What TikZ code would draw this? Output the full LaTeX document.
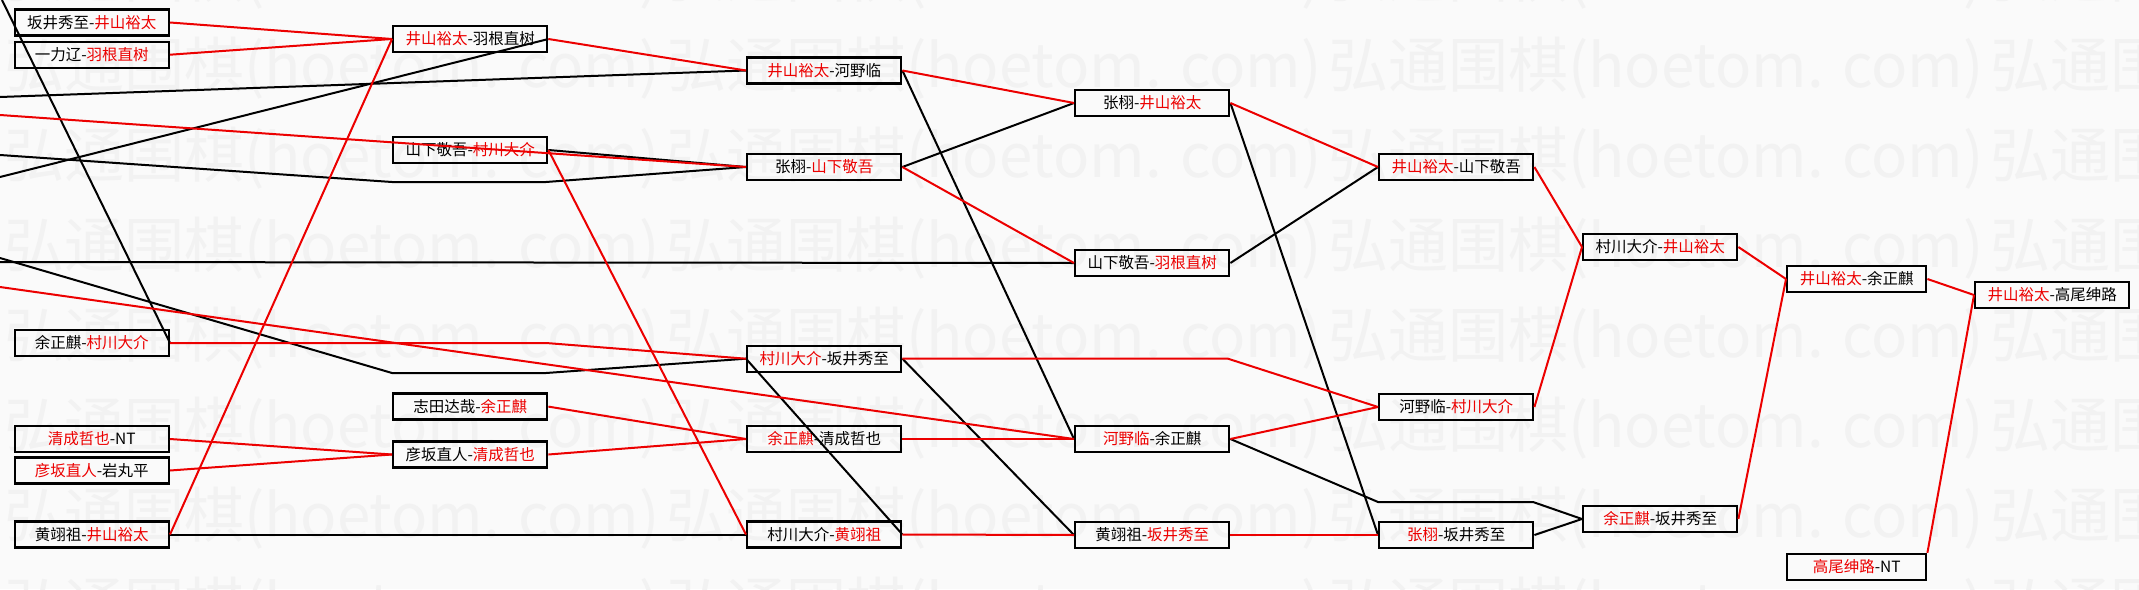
\documentclass[tikz,border=0pt]{standalone}
\usepackage{fontspec}
\usepackage{xcolor}
\usepackage{tikz}
\usetikzlibrary{positioning}
\newfontfamily\cjk{Noto Sans CJK SC}
\definecolor{wred}{RGB}{236,0,0}
\definecolor{wmark}{RGB}{242,242,242}
\newcommand{\wn}[1]{\textcolor{wred}{#1}}

\begin{document}
\begin{tikzpicture}[x=1pt, y=-1pt,
  every node/.style={font=\cjk\fontsize{15.5}{15.5}\selectfont},
  mbox/.style={draw, line width=2.4pt, minimum width=154pt, minimum height=26pt, inner sep=0pt, anchor=west},
  wm/.style={text=wmark, font=\cjk\fontsize{60}{60}\selectfont, inner sep=0pt, anchor=west},
  won/.style={draw=wred, line width=2pt},
  lost/.style={draw=black, line width=2pt}]
  \fill[white!98!black] (0,0) rectangle (2139,589);
  \useasboundingbox (0,0) rectangle (2139,589);
  % ---------- watermark ----------
  \foreach \r in {-1,...,6}
    \foreach \c in {-1,...,3}
      \node[wm] (wm-\r-\c) at ({4+662*\c},{68+90*\r}) {弘通围棋(hoetom. com)};
  % ---------- ROUND 1 ----------
  \node[mbox] (sj1)  at (13.6,22.5) {坂井秀至-\wn{井山裕太}};
  \node[mbox] (yl1)  at (13.6,54.7) {一力辽-\wn{羽根直树}};
  \node[mbox] (yzq1) at (13.6,343)  {余正麒-\wn{村川大介}};
  \node[mbox] (qc1)  at (13.6,439)  {\wn{清成哲也}-NT};
  \node[mbox] (ys1)  at (13.6,470.5) {\wn{彦坂直人}-岩丸平};
  \node[mbox] (hyz1) at (13.6,534.5) {黄翊祖-\wn{井山裕太}};
  % ---------- ROUND 2 ----------
  \node[mbox] (jsy2) at (392,39)    {\wn{井山裕太}-羽根直树};
  \node[mbox] (sxj2) at (392,150)   {山下敬吾-\wn{村川大介}};
  \node[mbox] (zt2)  at (392,406.6) {志田达哉-\wn{余正麒}};
  \node[mbox] (ys2)  at (392,454.5) {彦坂直人-\wn{清成哲也}};
  % ---------- ROUND 3 ----------
  \node[mbox] (jsy3)  at (746,70.5)  {\wn{井山裕太}-河野临};
  \node[mbox] (zx3)   at (746,167)   {张栩-\wn{山下敬吾}};
  \node[mbox] (ccd3)  at (746,358.7) {\wn{村川大介}-坂井秀至};
  \node[mbox] (yzq3)  at (746,439)   {\wn{余正麒}-清成哲也};
  \node[mbox] (ccd3b) at (746,534.5) {村川大介-\wn{黄翊祖}};
  % ---------- ROUND 4 ----------
  \node[mbox] (zx4)  at (1074,103) {张栩-\wn{井山裕太}};
  \node[mbox] (sxj4) at (1074,263) {山下敬吾-\wn{羽根直树}};
  \node[mbox] (hyl4) at (1074,439) {\wn{河野临}-余正麒};
  \node[mbox] (hyz4) at (1074,535) {黄翊祖-\wn{坂井秀至}};
  % ---------- ROUND 5 ----------
  \node[mbox] (jsy5) at (1378,167) {\wn{井山裕太}-山下敬吾};
  \node[mbox] (hyl5) at (1378,407) {河野临-\wn{村川大介}};
  \node[mbox] (zx5)  at (1378,535) {\wn{张栩}-坂井秀至};
  % ---------- ROUND 6 ----------
  \node[mbox] (ccd6) at (1582,247) {村川大介-\wn{井山裕太}};
  \node[mbox] (yzq6) at (1582,519) {\wn{余正麒}-坂井秀至};
  % ---------- ROUND 7 / FINAL ----------
  \node[mbox, minimum width=139pt] (jsy7) at (1786,279) {\wn{井山裕太}-余正麒};
  \node[mbox, minimum width=139pt] (gw7)  at (1786,567) {\wn{高尾绅路}-NT};
  \node[mbox] (jsy8) at (1974,295) {\wn{井山裕太}-高尾绅路};
  % ---------- free ends and bends ----------
  \coordinate (l0) at (2,0);
  \coordinate (l1) at (0,97);
  \coordinate (l2) at (0,115);
  \coordinate (l3) at (0,155);
  \coordinate (l4) at (0,177);
  \coordinate (l5) at (0,258);
  \coordinate (l6) at (0,262);
  \coordinate (l7) at (0,287);
  \coordinate (b1) at (392,182);
  \coordinate (b2) at (546,182);
  \coordinate (b3) at (392,373);
  \coordinate (b4) at (546,373);
  \coordinate (b5) at (546,343);
  \coordinate (b6) at (1228,358.7);
  \coordinate (b7) at (1378,502);
  \coordinate (b8) at (1533,502);
  % ---------- losers ----------
  \draw[lost] (l0) -- (yzq1.east);
  \draw[lost] (l1) -- (jsy3.west);
  \draw[lost] (l4) -- (jsy2.east);
  \draw[lost] (l3) -- (b1) -- (b2) -- (zx3.west);
  \draw[lost] (sxj2.east) -- (zx3.west);
  \draw[lost] (l5) -- (b3) -- (b4) -- (ccd3.west);
  \draw[lost] (l6) -- (sxj4.west);
  \draw[lost] (hyz1.east) -- (ccd3b.west);
  \draw[lost] (ccd3.west) -- (ccd3b.east);
  \draw[lost] (ccd3.east) -- (hyz4.west);
  \draw[lost] (jsy3.east) -- (hyl4.west);
  \draw[lost] (zx3.east) -- (zx4.west);
  \draw[lost] (zx4.east) -- (zx5.west);
  \draw[lost] (sxj4.east) -- (jsy5.west);
  \draw[lost] (hyl4.east) -- (b7) -- (b8) -- (yzq6.west);
  \draw[lost] (zx5.east) -- (yzq6.west);
  % ---------- winners ----------
  \draw[won] (sj1.east) -- (jsy2.west);
  \draw[won] (yl1.east) -- (jsy2.west);
  \draw[won] (hyz1.east) -- (jsy2.west);
  \draw[won] (qc1.east) -- (ys2.west);
  \draw[won] (ys1.east) -- (ys2.west);
  \draw[won] (jsy2.east) -- (jsy3.west);
  \draw[won] (l2) -- (zx3.west);
  \draw[won] (sxj2.east) -- (ccd3b.west);
  \draw[won] (yzq1.east) -- (b5) -- (ccd3.west);
  \draw[won] (l7) -- (hyl4.west);
  \draw[won] (zt2.east) -- (yzq3.west);
  \draw[won] (ys2.east) -- (yzq3.west);
  \draw[won] (jsy3.east) -- (zx4.west);
  \draw[won] (zx3.east) -- (sxj4.west);
  \draw[won] (ccd3.east) -- (b6) -- (hyl5.west);
  \draw[won] (yzq3.east) -- (hyl4.west);
  \draw[won] (ccd3b.east) -- (hyz4.west);
  \draw[won] (zx4.east) -- (jsy5.west);
  \draw[won] (hyl4.east) -- (hyl5.west);
  \draw[won] (hyz4.east) -- (zx5.west);
  \draw[won] (jsy5.east) -- (ccd6.west);
  \draw[won] (hyl5.east) -- (ccd6.west);
  \draw[won] (ccd6.east) -- (jsy7.west);
  \draw[won] (yzq6.east) -- (jsy7.west);
  \draw[won] (jsy7.east) -- (jsy8.west);
  \draw[won] (gw7.north east) -- (jsy8.west);
\end{tikzpicture}
\end{document}
